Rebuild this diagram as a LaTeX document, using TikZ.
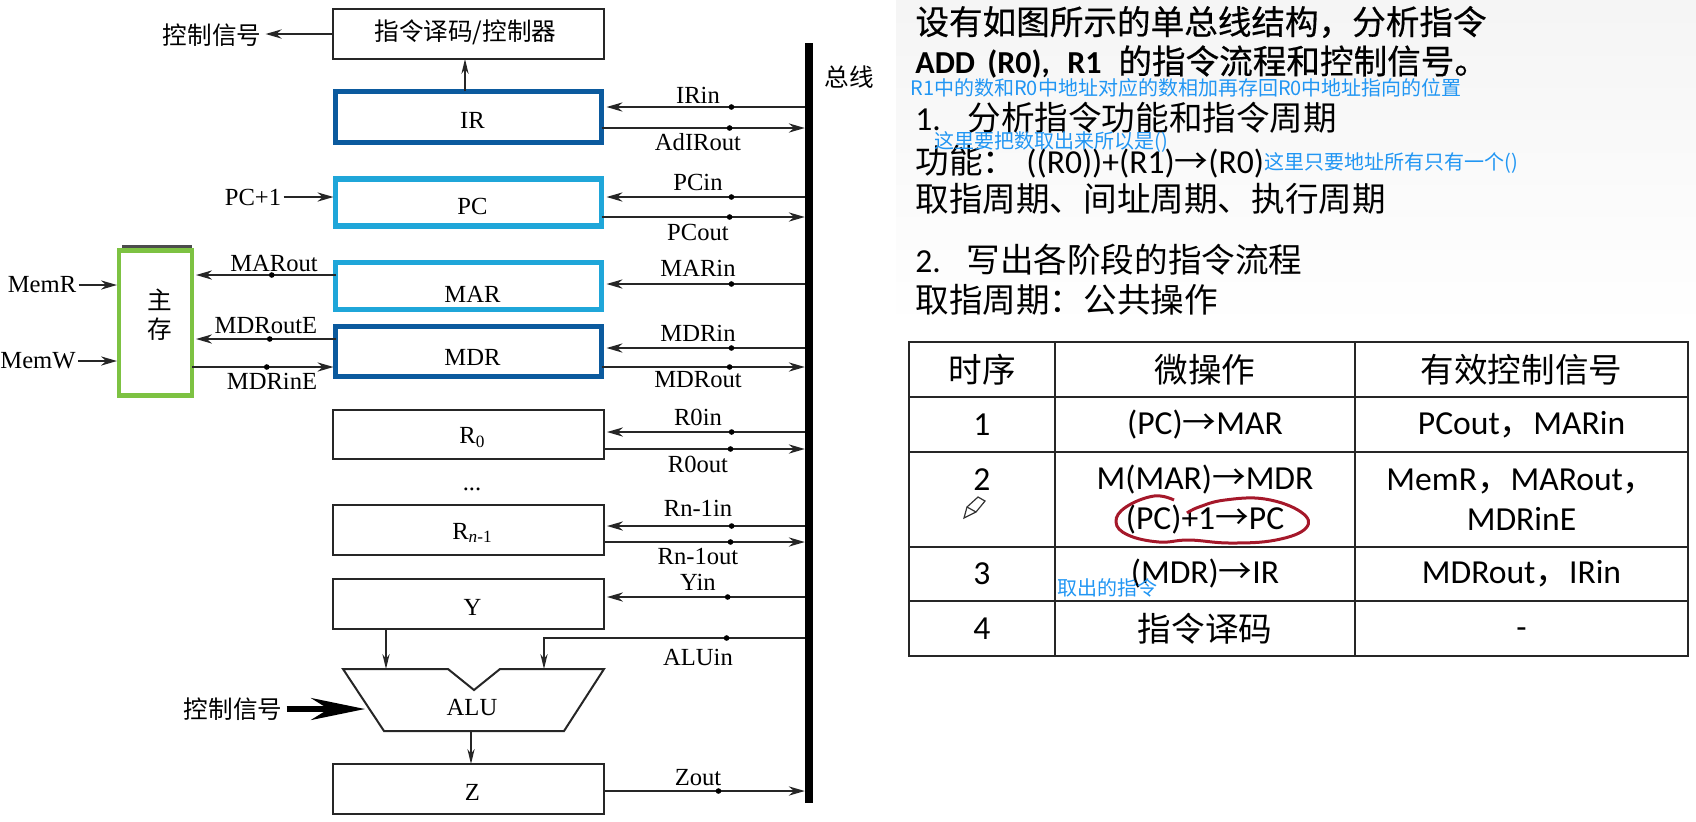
\documentclass[tikz,border=0pt]{standalone}
\usepackage{fontspec}
\setmainfont{Liberation Serif}
\setsansfont{Carlito}
\newfontfamily\cjk{Noto Sans CJK SC}
\newfontfamily\cjkMed[FakeBold=0.5]{Noto Sans CJK SC}
\usetikzlibrary{positioning, arrows.meta}
\definecolor{navyReg}{HTML}{0B5A9E}
\definecolor{cyanReg}{HTML}{1FA6D9}
\definecolor{memGreen}{HTML}{7DC242}
\definecolor{noteBlue}{HTML}{2196F3}
\definecolor{inkRed}{HTML}{A5182A}
\tikzset{
	reg/.style={
		minimum height=25pt,
		minimum width=135.5pt,
		outer sep=0pt,
		inner sep=0pt,
		line width=1pt,
		draw=black!85,
		text height=11pt,
		font=\fontsize{12.3pt}{14pt}\selectfont,
		execute at begin node=\hspace*{4pt}
	},
	navyBox/.style={
		reg,
		line width=2.6pt,
		draw=navyReg,
		minimum width=133pt
	},
	cyanBox/.style={
		reg,
		line width=2.6pt,
		draw=cyanReg,
		minimum width=133pt
	},
	sig/.style={
		inner sep=0pt,
		font=\fontsize{12.3pt}{14pt}\selectfont
	},
	cjkSig/.style={
		inner sep=0pt,
		font=\cjk\fontsize{12.3pt}{14pt}\selectfont
	},
	tap/.style={
		circle,
		fill=black,
		inner sep=0pt,
		minimum size=2.8pt
	},
	flow/.style={
		draw=black!85,
		line width=1pt,
		-{Stealth[length=8pt,width=4.6pt]}
	},
	thinFlow/.style={
		draw=black!85,
		line width=0.7pt,
		-{Stealth[length=7.5pt,width=3.6pt]}
	},
	slideText/.style={
		anchor=west,
		inner sep=0pt,
		font=\sffamily\fontsize{16.8pt}{20pt}\selectfont
	},
	note/.style={
		anchor=west,
		inner sep=0pt,
		text=noteBlue,
		font=\cjk\fontsize{10pt}{12pt}\selectfont
	},
	cell/.style={
		draw=black!85,
		line width=1pt,
		outer sep=0pt,
		inner sep=0pt,
		align=center,
		font=\sffamily\fontsize{16.8pt}{20pt}\selectfont
	},
}
\begin{document}
\begin{tikzpicture}[x=0.5pt, y=-0.5pt]
	\useasboundingbox (0,0) rectangle (1696,821);
	\fill [top color=black!4, bottom color=white] (896,0) rectangle (1696,330);

	% control unit
	\node [reg, minimum height=25pt, text height=9pt, font=\cjk\fontsize{12.3pt}{14pt}\selectfont, execute at begin node=\hspace*{-7pt}] (decoder) at (468.5,34) {指令译码/控制器};
	\node [cjkSig] (ctrlOutText) at (212,35) {控制信号};

	% registers on the bus
	\node [navyBox, minimum height=25.5pt, text height=12pt, below=16.2pt of decoder.south] (IR) {IR};
	\node [cyanBox, minimum height=23.5pt, text height=12.5pt, below=18.3pt of IR] (PC) {PC};
	\node [cyanBox, minimum height=23.5pt, text height=16pt, below=18.3pt of PC] (MAR) {MAR};
	\node [navyBox, minimum height=25pt, text height=14pt, below=8.5pt of MAR] (MDR) {MDR};
	\node [reg, minimum height=24.5pt, at={(468.5,434.5)}] (R0) {R\textsubscript{0}};
	\node [sig] (regDots) at (472,489) {...};
	\node [reg, below=23pt of R0] (Rn) {R\textsubscript{\textit{n}-1}};
	\node [reg, below=12pt of Rn] (Y) {Y};
	\node [reg, at={(468.5,789)}] (Z) {Z};

	% bus
	\node [fill=black, minimum width=4.2pt, minimum height=380pt, inner sep=0pt, outer sep=0pt] (bus) at (809,423) {};
	\node [cjkSig] (busText) at (849,77) {总线};

	% main memory
	\node [reg, draw=memGreen, line width=2.4pt, minimum width=36.5pt, minimum height=72.5pt, align=center, font=\cjk\fontsize{12.3pt}{14.5pt}\selectfont, text height={}, execute at begin node={}] (memory) at (155.5,323) {主\\存\\[-5pt]\mbox{}};
	\draw [black!70, line width=1.2pt] (memory.north west) ++(3,-4) coordinate (memTopL) -- (memTopL -| memory.north east);
	\node [sig] (memRText) at (42,285) {MemR};
	\node [sig] (memWText) at (38,361) {MemW};

	% ALU
	\draw [black!85, line width=1pt] (343,669) -- (448,669) -- (474,690) -- (500,669) -- (604,669) -- (564,731) -- (384,731) -- cycle;
	\node [sig] (aluText) at (472,707) {ALU};
	\coordinate (aluInY) at (386,669);
	\coordinate (aluInBus) at (544,669);
	\coordinate (aluSide) at (365,709);
	\coordinate (aluOut) at (471,731);
	\node [cjkSig] (aluCtrlText) at (233,709) {控制信号};

	% signal names, bus side
	\node [sig] (IRinText) at (698,95) {IRin};
	\node [sig] (IRoutText) at (698,142) {AdIRout};
	\node [sig] (PCinText) at (698,182) {PCin};
	\node [sig] (PCoutText) at (698,232) {PCout};
	\node [sig] (MARinText) at (698,268) {MARin};
	\node [sig] (MDRinText) at (698,333) {MDRin};
	\node [sig] (MDRoutText) at (698,380) {MDRout};
	\node [sig] (R0inText) at (698,417) {R0in};
	\node [sig] (R0outText) at (698,464) {R0out};
	\node [sig] (RninText) at (698,508) {Rn-1in};
	\node [sig] (RnoutText) at (698,556) {Rn-1out};
	\node [sig] (YinText) at (698,582) {Yin};
	\node [sig] (ALUinText) at (698,657) {ALUin};
	\node [sig] (ZoutText) at (698,778) {Zout};

	% signal names, memory side
	\node [sig] (MARoutText) at (274,263) {MARout};
	\node [sig] (MDRoutEText) at (266,326) {MDRoutE};
	\node [sig] (MDRinEText) at (272,381) {MDRinE};
	\node [sig] (PCplusText) at (253,197) {PC+1};

	% connect bus to registers
	\draw [flow] (bus.west |- 0,107) -- node [tap, pos=0.37] (IRinDot) {} ([xshift=2.5pt]IR.east |- 0,107);
	\draw [flow] (IR.east |- 0,128) -- node [tap, pos=0.63] (IRoutDot) {} (bus.west |- 0,128);
	\draw [flow] (bus.west |- 0,197) -- node [tap, pos=0.37] (PCinDot) {} ([xshift=2.5pt]PC.east |- 0,197);
	\draw [flow] (PC.east |- 0,217) -- node [tap, pos=0.63] (PCoutDot) {} (bus.west |- 0,217);
	\draw [flow] (bus.west |- 0,284) -- node [tap, pos=0.37] (MARinDot) {} ([xshift=2.5pt]MAR.east |- 0,284);
	\draw [flow] (bus.west |- 0,348) -- node [tap, pos=0.37] (MDRinDot) {} ([xshift=2.5pt]MDR.east |- 0,348);
	\draw [flow] (MDR.east |- 0,367) -- node [tap, pos=0.63] (MDRoutDot) {} (bus.west |- 0,367);
	\draw [flow] (bus.west |- 0,432) -- node [tap, pos=0.37] (R0inDot) {} ([xshift=1.5pt]R0.east |- 0,432);
	\draw [flow] (R0.east |- 0,449) -- node [tap, pos=0.63] (R0outDot) {} (bus.west |- 0,449);
	\draw [flow] (bus.west |- 0,526) -- node [tap, pos=0.37] (RninDot) {} ([xshift=1.5pt]Rn.east |- 0,526);
	\draw [flow] (Rn.east |- 0,542) -- node [tap, pos=0.63] (RnoutDot) {} (bus.west |- 0,542);
	\draw [flow] (bus.west |- 0,597) -- node [tap, pos=0.39] (YinDot) {} ([xshift=1.5pt]Y.east |- 0,597);
	\draw [flow] (Z.east |- 0,791) -- node [tap, pos=0.57] (ZoutDot) {} (bus.west |- 0,791);
	\draw [thinFlow] (bus.west |- 0,638) -- node [tap, pos=0.30] (ALUinDot) {} (aluInBus |- 0,638) -- (aluInBus);

	% connect registers to memory
	\draw [flow] (MAR.west |- 0,275) -- node [tap, midway, xshift=3pt] (MARoutDot) {} ([xshift=2pt]memory.east |- 0,275);
	\draw [flow] (MDR.west |- 0,339) -- node [tap, midway, xshift=2pt] (MDRoutEDot) {} ([xshift=2pt]memory.east |- 0,339);
	\draw [flow] (memory.east |- 0,367) -- node [tap, midway, xshift=2pt] (MDRinEDot) {} ([xshift=-1pt]MDR.west |- 0,367);

	% remaining arrows
	\draw [flow, shorten >=2pt] (decoder.west) -- (ctrlOutText.east |- decoder.west);
	\draw [thinFlow] (IR.north -| 465,0) -- (decoder.south -| 465,0);
	\draw [flow] (PCplusText.east) ++(2,0) -- ([xshift=-1pt]PC.west |- PCplusText.east);
	\draw [flow] (memRText.east) ++(2,0) -- ([xshift=-1pt]memory.west |- memRText.east);
	\draw [flow] (memWText.east) ++(2,0) -- ([xshift=-1pt]memory.west |- memWText.east);
	\draw [thinFlow] (Y.south -| aluInY) -- (aluInY);
	\draw [thinFlow] (aluOut) -- (Z.north -| aluOut);
	\draw [-{Stealth[length=27pt,width=11pt]}, line width=2.8pt] (aluCtrlText.east) ++(4,0) -- (aluSide);

	% slide text
	\node [slideText, font=\cjkMed\fontsize{16.8pt}{20pt}\selectfont] (qLineA) at (915,22) {设有如图所示的单总线结构，分析指令};
	\node [slideText, font=\cjkMed\fontsize{16.8pt}{20pt}\selectfont] (qLineB) at (915,62) {{\sffamily\bfseries\fontsize{16pt}{20pt}\selectfont\makebox[36pt][l]{ADD}\makebox[40pt][l]{(R0),}\makebox[25.5pt][l]{R1}}的指令流程和控制信号。};
	\node [note] (noteAdd) at (910,88) {R1中的数和R0中地址对应的数相加再存回R0中地址指向的位置};
	\node [slideText] (stepOne) at (915,118) {\makebox[26pt][l]{1.}{\cjk 分析指令功能和指令周期}};
	\node [slideText] (funcLine) at (915,162) {\makebox[55.5pt][l]{\cjk 功能：}((R0))+(R1){\cjk →}(R0)};
	\node [note] (noteData) at (934,142) {这里要把数取出来所以是()};
	\node [note] (noteAddr) at (1264,163) {这里只要地址所有只有一个()};
	\node [slideText, font=\cjk\fontsize{16.8pt}{20pt}\selectfont] (cycleLine) at (915,199) {取指周期、间址周期、执行周期};
	\node [slideText] (stepTwo) at (915,260) {\makebox[25.5pt][l]{2.}{\cjk 写出各阶段的指令流程}};
	\node [slideText, font=\cjk\fontsize{16.8pt}{20pt}\selectfont] (fetchLine) at (915,300) {取指周期：公共操作};

	% table
	\node [cell, font=\cjk\fontsize{16.8pt}{20pt}\selectfont, minimum width=73pt, minimum height=27.5pt] (headTime) at (982,369.5) {时序};
	\node [cell, font=\cjk\fontsize{16.8pt}{20pt}\selectfont, minimum width=150pt, minimum height=27.5pt, right=0pt of headTime] (headOp) {微操作};
	\node [cell, font=\cjk\fontsize{16.8pt}{20pt}\selectfont, minimum width=166.5pt, minimum height=27.5pt, right=0pt of headOp] (headSig) {有效控制信号};
	\node [cell, minimum width=73pt, minimum height=27.5pt, below=0pt of headTime] (rowOneTime) {1};
	\node [cell, minimum width=150pt, minimum height=27.5pt, below=0pt of headOp] (rowOneOp) {(PC){\cjk →}MAR};
	\node [cell, minimum width=166.5pt, minimum height=27.5pt, below=0pt of headSig] (rowOneSig) {PCout{\cjk ，}MARin};
	\node [cell, minimum width=73pt, minimum height=47.5pt, below=0pt of rowOneTime] (rowTwoTime) {2\\\mbox{}};
	\node [cell, minimum width=150pt, minimum height=47.5pt, below=0pt of rowOneOp] (rowTwoOp) {M(MAR){\cjk →}MDR\\(PC)+1{\cjk →}PC};
	\node [cell, minimum width=166.5pt, minimum height=47.5pt, below=0pt of rowOneSig] (rowTwoSig) {MemR{\cjk ，}MARout{\cjk ，}\\MDRinE};
	\node [cell, minimum width=73pt, minimum height=27pt, below=0pt of rowTwoTime] (rowThreeTime) {3};
	\node [cell, minimum width=150pt, minimum height=27pt, below=0pt of rowTwoOp] (rowThreeOp) {(MDR){\cjk →}IR};
	\node [cell, minimum width=166.5pt, minimum height=27pt, below=0pt of rowTwoSig] (rowThreeSig) {MDRout{\cjk ，}IRin};
	\node [cell, minimum width=73pt, minimum height=27.5pt, below=0pt of rowThreeTime] (rowFourTime) {4};
	\node [cell, font=\cjk\fontsize{16.8pt}{20pt}\selectfont, minimum width=150pt, minimum height=27.5pt, below=0pt of rowThreeOp] (rowFourOp) {指令译码};
	\node [cell, minimum width=166.5pt, minimum height=27.5pt, below=0pt of rowThreeSig] (rowFourSig) {\raisebox{0pt}[10pt][0pt]{-}};
	\node [note] (noteFetch) at (1057,588) {取出的指令};

	% ink marks
	\draw [inkRed, line width=1.5pt] plot [smooth, tension=0.7] coordinates {(1174,500) (1154,496) (1126,507) (1116,522) (1128,535) (1159,542) (1189,540) (1230,543) (1276,540) (1306,528) (1301,512) (1265,499) (1225,500) (1199,507) (1187,513)};
	\draw [black!80, line width=0.6pt, fill=white] (964,518) -- (967,507) -- (978,497) -- (985,501) -- (976,512) -- cycle;
	\draw [black!80, line width=0.6pt] (967,507) -- (976,512);
\end{tikzpicture}
\end{document}
